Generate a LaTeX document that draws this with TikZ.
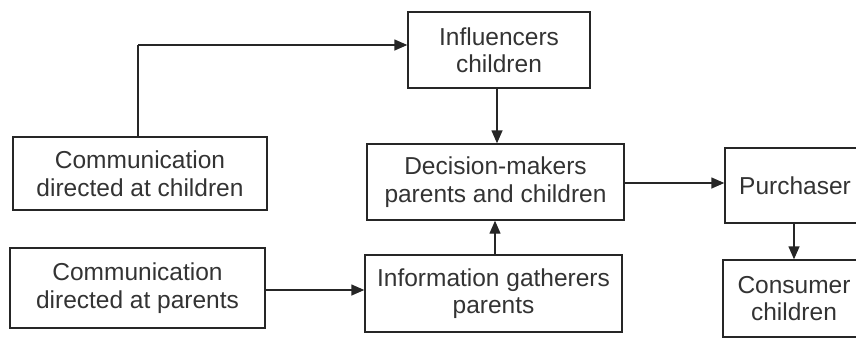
\documentclass[tikz,border=0pt]{standalone}
\usepackage{fontspec}
\setmainfont{Liberation Sans}
\usetikzlibrary{arrows.meta}
\begin{document}
\begin{tikzpicture}[x=1pt,y=-1pt,
  box/.style={draw=black!85,line width=1.4pt,rectangle,inner sep=0pt,align=center,
    text=black!80,font=\fontsize{24.5}{27.5}\selectfont},
  conn/.style={draw=black!85,line width=1.4pt,-{Triangle[length=13pt,width=11pt]}},
  link/.style={draw=black!85,line width=1.4pt}]
\useasboundingbox (0,0) rectangle (856,338);
\node[box,minimum width=182pt,minimum height=76pt] (inf) at (499,50) {Influencers\\children};
\node[box,minimum width=257pt,minimum height=76pt] (dec) at (495.5,182) {Decision-makers\\parents and children};
\node[box,minimum width=257pt,minimum height=77pt] (info) at (493.5,293.5) {Information gatherers\\parents};
\node[box,minimum width=254pt,minimum height=73pt] (cc) at (140,173.5) {Communication\\directed at children};
\node[box,minimum width=255pt,minimum height=80pt] (cp) at (137.5,288) {Communication\\directed at parents};
\node[box,minimum width=140pt,minimum height=75pt] (pur) at (795,185.5) {Purchaser};
\node[box,minimum width=142pt,minimum height=77pt] (con) at (794,298.5) {Consumer\\children};
\coordinate (bend) at (138,45);
\draw[link] (cc.north -| bend) -- (bend);
\draw[conn] (bend) -- (bend -| inf.west);
\draw[conn] (inf.south -| 497,0) -- (dec.north -| 497,0);
\draw[conn] (info.north -| 495,0) -- (dec.south -| 495,0);
\draw[conn] (cp.east |- 0,290) -- (info.west |- 0,290);
\draw[conn] (dec.east |- 0,183) -- (pur.west |- 0,183);
\draw[conn] (pur.south -| 794,0) -- (con.north -| 794,0);
\end{tikzpicture}
\end{document}
